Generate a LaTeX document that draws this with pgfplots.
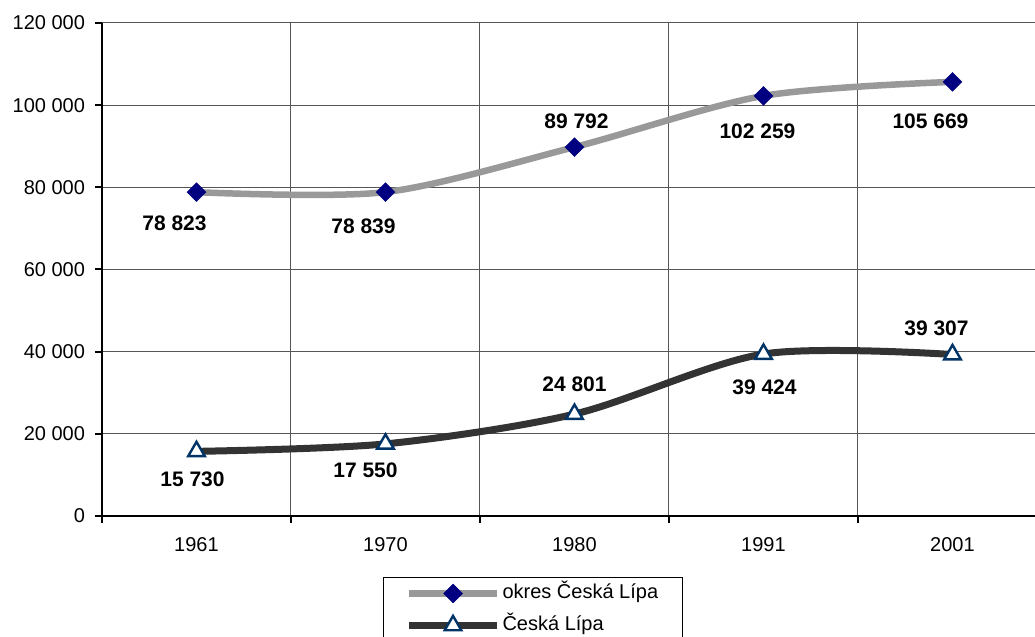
\documentclass[border=0pt]{standalone}
\usepackage{fontspec}
\setmainfont{Liberation Sans}
\usepackage{pgfplots}
\usepackage{pgfplotstable}
\pgfplotsset{compat=1.18}
\definecolor{okresline}{HTML}{999999}
\definecolor{mestoline}{HTML}{333333}
\definecolor{navymark}{HTML}{000080}
\definecolor{trimark}{HTML}{003366}
\definecolor{gridc}{HTML}{555555}

% x = category index, dx/dy = label offset in pt
\pgfplotstableread{
x y dx dy
0 78823 -11 -15.5
1 78839 -11 -17
2 89792 1 13
3 102259 -3 -17.5
4 105669 -11 -19.5
}\okres
\pgfplotstableread{
x y dx dy
0 15730 -2 -14
1 17550 -10 -13
2 24801 0 15
3 39424 0.5 -16.5
4 39307 -8 13
}\mesto

\begin{document}
\begin{tikzpicture}
\path[use as bounding box] (-51pt,-60.5pt) rectangle (466.5pt,258pt);
\begin{axis}[
    scale only axis, width=472.5pt, height=246.5pt,
    at={(0,0)}, anchor=south west,
    xmin=-0.5, xmax=4.5, ymin=0, ymax=120000,
    axis x line*=bottom, axis y line*=left,
    axis line style={line width=1pt, -},
    font=\fontsize{10pt}{12pt}\selectfont,
    ytick={0,20000,...,120000},
    scaled y ticks=false,
    yticklabel style={/pgf/number format/fixed, /pgf/number format/1000 sep={\ },
        /pgf/number format/assume math mode=true},
    y tick label style={xshift=-1.5pt},
    xtick={-0.5,0.5,...,4.5}, xticklabels={},
    extra x ticks={0,1,2,3,4},
    extra x tick labels={1961,1970,1980,1991,2001},
    extra x tick style={major tick length=0pt, grid=none, tick label style={yshift=-7pt}},
    xmajorgrids, ymajorgrids,
    grid style={gridc, line width=0.5pt},
    tick align=outside, major tick length=3.5pt,
    tick style={black, line width=1pt},
    nodes near coords={\pgfmathprintnumber[fixed, precision=0, 1000 sep={\ }, assume math mode=true]{\pgfplotspointmeta}},
    visualization depends on={\thisrow{dx} \as \dx},
    visualization depends on={\thisrow{dy} \as \dy},
    every node near coord/.append style={anchor=center, xshift=\dx, yshift=\dy,
        text=black, font=\bfseries\fontsize{10.5pt}{12pt}\selectfont},
    legend cell align=left,
    legend image code/.code={\draw[#1, mark repeat=2, mark phase=2]
        plot coordinates {(0pt,0pt) (22pt,0pt) (44pt,0pt)};},
    legend style={at={(0.2974,-0.1237)}, anchor=north west, draw=black,
        line width=0.5pt, inner xsep=11pt, inner ysep=0pt, row sep=0pt,
        font=\fontsize{10pt}{12pt}\selectfont,
        nodes={inner ysep=3pt, inner xsep=1pt, text height=7.5pt, text depth=2.5pt}},
]
\addplot[okresline, line width=3.25pt, smooth,
    mark=square*, mark size=3.3pt,
    mark options={rotate=45, fill=navymark, draw=navymark, line width=0.3pt}]
    table[x=x, y=y] {\okres};
\addlegendentry{okres Česká Lípa}
\addplot[mestoline, line width=3.5pt, smooth,
    mark=triangle*, mark size=4.8pt,
    mark options={fill=white, draw=trimark, line width=1.2pt}]
    table[x=x, y=y] {\mesto};
\addlegendentry{Česká Lípa}
\end{axis}
\end{tikzpicture}
\end{document}
